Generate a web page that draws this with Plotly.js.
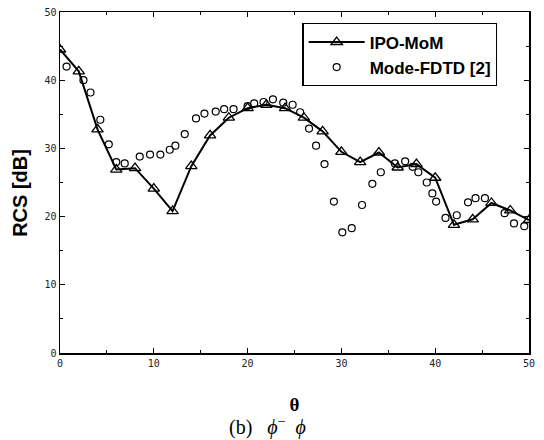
<!DOCTYPE html>
<html>
<head>
<meta charset="utf-8">
<script src="https://cdn.plot.ly/plotly-3.0.1.min.js"></script>
<style>
  html, body { margin: 0; padding: 0; background: #fff; }
  #chart { width: 544px; height: 440px; }
</style>
</head>
<body>
<div id="chart"></div>
<script>
// IPO-MoM (line with open triangles)
const ipoTheta = [0, 2, 4, 6, 8, 10, 12, 14, 16, 18, 20, 22, 24, 26, 28, 30, 32, 34, 36, 38, 40, 42, 44, 46, 48, 50];
const ipoRCS = [44.5, 41.3, 32.8, 26.9, 27.1, 24.1, 20.8, 27.4, 31.9, 34.5, 35.9, 36.4, 35.9, 34.5, 32.5, 29.5, 28.0, 29.4, 27.2, 27.7, 25.7, 18.8, 19.6, 22.0, 20.9, 19.5];

// Mode-FDTD [2] (open circles)
const fdtdTheta = [0.7, 2.5, 3.25, 4.3, 5.2, 6.0, 6.9, 8.5, 9.6, 10.7, 11.7, 12.3, 13.3, 14.5, 15.4, 16.6, 17.5, 18.5, 20.0, 20.7, 21.7, 22.7, 23.8, 24.8, 25.6, 26.55, 27.3, 28.2, 29.2, 30.1, 31.1, 32.2, 33.3, 34.2, 35.7, 36.8, 37.6, 38.2, 39.1, 39.7, 40.1, 41.1, 42.3, 43.5, 44.3, 45.3, 47.4, 48.4, 49.5];
const fdtdRCS = [42.0, 40.0, 38.2, 34.2, 30.6, 28.0, 27.8, 28.8, 29.1, 29.1, 29.8, 30.4, 32.1, 34.4, 35.1, 35.4, 35.75, 35.75, 36.2, 36.6, 36.8, 37.2, 36.7, 36.4, 35.3, 32.9, 30.4, 27.7, 22.2, 17.7, 18.3, 21.7, 24.8, 26.5, 27.8, 28.1, 27.3, 26.5, 25.0, 23.4, 22.2, 19.8, 20.2, 22.1, 22.7, 22.7, 20.5, 19.0, 18.6];

const seriesNames = ["IPO-MoM", "Mode-FDTD [2]"];
const xTickVals = [0, 10, 20, 30, 40, 50];
const yTickVals = [0, 10, 20, 30, 40, 50];
const xTitle = "θ";
const yTitle = "RCS [dB]";
const caption = "(b)&nbsp;&nbsp;&nbsp;<i>ϕ</i><sup>−</sup>&nbsp;&nbsp;<i>ϕ</i>";

const traces = [
  {
    x: ipoTheta, y: ipoRCS, name: seriesNames[0],
    type: "scatter", mode: "lines+markers",
    line: { color: "#000", width: 2 },
    marker: { symbol: "triangle-up-open", size: 10, color: "#000", line: { width: 1.3, color: "#000" } }
  },
  {
    x: fdtdTheta, y: fdtdRCS, name: seriesNames[1],
    type: "scatter", mode: "markers",
    marker: { symbol: "circle-open", size: 7, color: "#000", line: { width: 1.2, color: "#000" } }
  }
];

const layout = {
  width: 544, height: 440,
  paper_bgcolor: "#fff", plot_bgcolor: "#fff",
  margin: { l: 60, r: 15, t: 12, b: 86.5, pad: 0 },
  font: { family: "Liberation Sans, Arial, sans-serif", color: "#000" },
  showlegend: true,
  legend: {
    x: 0.517, y: 0.967, xanchor: "left", yanchor: "top",
    bordercolor: "#000", borderwidth: 1.2, bgcolor: "#fff",
    font: { size: 17, family: "Liberation Sans, Arial, sans-serif", color: "#000", weight: "bold" },
    itemwidth: 56, tracegroupgap: 0
  },
  xaxis: {
    range: [0, 50], tickvals: xTickVals,
    showline: true, linecolor: "#000", linewidth: 1.5, mirror: "allticks",
    ticks: "inside", ticklen: 5, tickwidth: 1.2, tickcolor: "#000",
    minor: { dtick: 5, ticks: "inside", ticklen: 3, tickcolor: "#000", tickwidth: 1 },
    showgrid: false, zeroline: false,
    tickfont: { size: 10, color: "#222", family: "DejaVu Sans Mono, monospace" },
    title: { text: xTitle, font: { size: 19, family: "Liberation Serif, Times New Roman, serif", weight: "bold" }, standoff: 30 }
  },
  yaxis: {
    range: [0, 50], tickvals: yTickVals,
    showline: true, linecolor: "#000", linewidth: 1.5, mirror: "allticks",
    ticks: "inside", ticklen: 5, tickwidth: 1.2, tickcolor: "#000",
    minor: { dtick: 5, ticks: "inside", ticklen: 3, tickcolor: "#000", tickwidth: 1 },
    showgrid: false, zeroline: false,
    tickfont: { size: 10, color: "#222", family: "DejaVu Sans Mono, monospace" }
  },
  annotations: [
    {
      text: "<b>" + yTitle + "</b>", xref: "paper", yref: "paper",
      x: -0.085, y: 0.47, xanchor: "center", yanchor: "middle",
      textangle: -90, showarrow: false,
      font: { size: 20, family: "Liberation Sans, Arial, sans-serif", color: "#000" }
    },
    {
      text: caption, xref: "paper", yref: "paper",
      x: 0.443, y: -0.215, xanchor: "center", yanchor: "middle", showarrow: false,
      font: { size: 20, family: "Liberation Serif, Times New Roman, serif", color: "#000" }
    }
  ]
};

Plotly.newPlot("chart", traces, layout, { displayModeBar: false, staticPlot: true });
</script>
</body>
</html>
